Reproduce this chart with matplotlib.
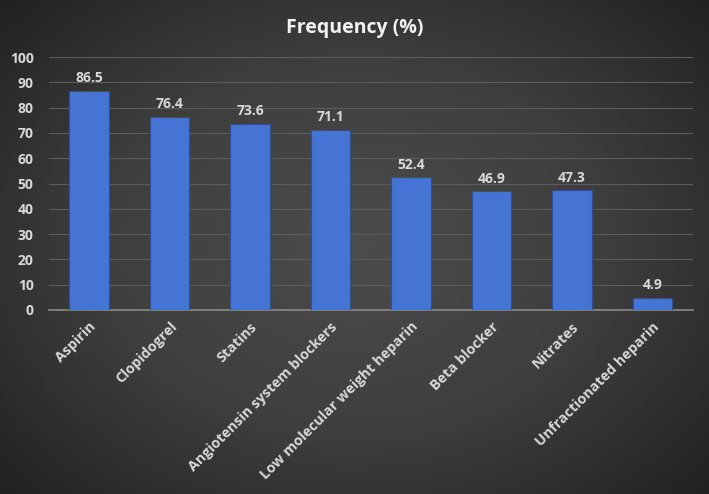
import numpy as np
import matplotlib.pyplot as plt
from matplotlib.colors import LinearSegmentedColormap

drugs = ['Aspirin', 'Clopidogrel', 'Statins', 'Angiotensin system blockers',
         'Low molecular weight heparin', 'Beta blocker', 'Nitrates',
         'Unfractionated heparin']
frequency = [86.5, 76.4, 73.6, 71.1, 52.4, 46.9, 47.3, 4.9]
yticks = [0, 10, 20, 30, 40, 50, 60, 70, 80, 90, 100]

plt.rcParams['font.family'] = ['Open Sans', 'DejaVu Sans']
text_color = '#d9d9d9'

fig = plt.figure(figsize=(7.09, 4.94), dpi=100)

# dark radial background
bg = fig.add_axes([0, 0, 1, 1], zorder=-10)
yy, xx = np.mgrid[0:1:300j, 0:1:400j]
r = np.sqrt(((xx - 0.5) / 0.75) ** 2 + ((yy - 0.5) / 0.8) ** 2)
cmap = LinearSegmentedColormap.from_list('bgc', ['#4c4c4c', '#3e3e3e', '#1f1f1f'])
bg.imshow(r, cmap=cmap, vmin=0, vmax=0.95, aspect='auto',
          extent=[0, 1, 0, 1], origin='lower')
bg.axis('off')

ax = fig.add_axes([0.069, 0.3725, 0.908, 0.512])
ax.patch.set_alpha(0)
x = np.arange(len(drugs))
bars = ax.bar(x, frequency, width=0.49, color='#4574d4', edgecolor='#2b4f9c',
              linewidth=0.8, zorder=3)
for xi, v in zip(x, frequency):
    ax.text(xi, v + 2.3, str(v), ha='center', va='bottom', color=text_color,
            fontsize=10, fontweight='bold')

ax.set_xlim(-0.5, len(drugs) - 0.5)
ax.set_ylim(0, 100)
ax.set_yticks(yticks)
ax.yaxis.grid(True, color='#5c5c5c', linewidth=0.8, zorder=0)
ax.set_xticks(x)
ax.set_xticklabels(drugs, rotation=45, ha='right', rotation_mode='anchor',
                   color=text_color, fontsize=10.3, fontweight='bold')
for lab in ax.get_yticklabels():
    lab.set_color(text_color)
    lab.set_fontsize(10)
    lab.set_fontweight('bold')
ax.tick_params(axis='y', length=0, pad=11)
ax.tick_params(axis='x', length=0, pad=7)
for s in ['top', 'right', 'left']:
    ax.spines[s].set_visible(False)
ax.spines['bottom'].set_color('#8a8a8a')
ax.spines['bottom'].set_linewidth(1.2)

fig.text(0.5, 0.943, 'Frequency (%)', ha='center', va='center',
         color='#f2f2f2', fontsize=14, fontweight='bold')

plt.savefig('out.png', dpi=100)
